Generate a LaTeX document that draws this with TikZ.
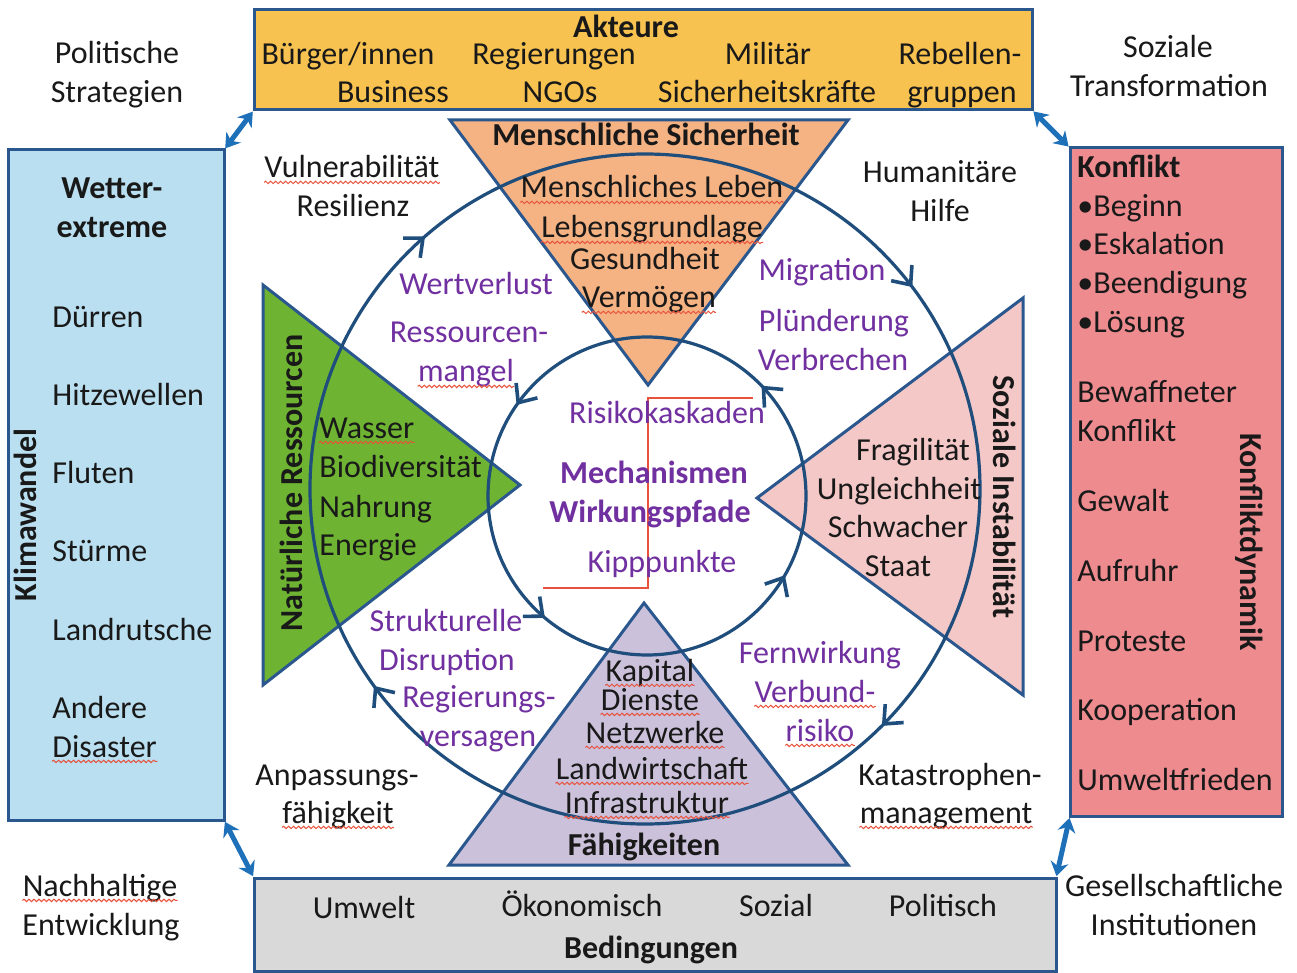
\documentclass[tikz,border=0pt]{standalone}
\usepackage{fontspec}
\setmainfont{Carlito}
\usetikzlibrary{arrows.meta,decorations.markings,decorations.pathmorphing}
\definecolor{bordb}{RGB}{43,87,143}
\definecolor{circb}{RGB}{31,78,125}
\definecolor{arrb}{RGB}{30,112,185}
\definecolor{topf}{RGB}{247,194,80}
\definecolor{leftf}{RGB}{186,223,240}
\definecolor{rightf}{RGB}{238,139,143}
\definecolor{botf}{RGB}{217,217,217}
\definecolor{orf}{RGB}{245,178,130}
\definecolor{grf}{RGB}{110,180,50}
\definecolor{pkf}{RGB}{244,200,198}
\definecolor{puf}{RGB}{204,193,218}
\definecolor{mpur}{RGB}{112,48,160}
\definecolor{redl}{RGB}{232,82,60}
\definecolor{txtc}{RGB}{25,25,25}
\newcommand\squnder[1]{\draw[squig] ([yshift=-2.2pt]#1.base west) -- ([yshift=-2.2pt]#1.base east);}
\begin{document}
\begin{tikzpicture}[x=0.5pt,y=-0.5pt,
  txt/.style={font=\fontsize{16}{19.5}\selectfont, text=txtc, text height=13pt, text depth=3pt, inner sep=0pt},
  bt/.style={txt, font=\fontsize{16}{19.5}\selectfont\bfseries},
  mech/.style={txt, text=mpur},
  mechb/.style={bt, text=mpur},
  lt/.style={txt, anchor=west},
  box/.style={draw=bordb, line width=1.5pt, inner sep=0pt, outer sep=0pt},
  tri/.style={draw=bordb, line width=1.5pt, line join=miter},
  circ/.style={draw=circb, line width=1.6pt},
  dbl/.style={draw=arrb, line width=2.5pt, {Stealth[length=7pt,width=9pt]}-{Stealth[length=7pt,width=9pt]}, shorten <=1pt, shorten >=1pt},
  squig/.style={draw=redl, line width=0.5pt, decorate, decoration={snake, amplitude=0.6pt, segment length=2.5pt}},
  redline/.style={draw=redl, line width=0.9pt},
  tipc/.tip={Straight Barb[length=7.5pt,width=13pt,line width=1.8pt]}
]
\useasboundingbox (0,0) rectangle (1297,973);
\fill[white] (0,0) rectangle (1297,973);

% boxes
\node[box, fill=topf, minimum width=389pt, minimum height=50pt] (akt) at (643,60) {};
\node[box, fill=leftf, minimum width=108pt, minimum height=335pt] (klima) at (116,485) {};
\node[box, fill=rightf, minimum width=106pt, minimum height=334pt] (konf) at (1176,482) {};
\node[box, fill=botf, minimum width=401pt, minimum height=46.5pt] (bed) at (655,924.5) {};

% double arrows
\draw[dbl] (klima.north east) -- (akt.south west);
\draw[dbl] (akt.south east) -- (konf.north west);
\draw[dbl] (klima.south east) -- (bed.north west);
\draw[dbl] (konf.south west) -- (bed.north east);

% triangles
\coordinate (o1) at (450,120); \coordinate (o2) at (848,120); \coordinate (o3) at (648,385);
\coordinate (g1) at (263,285); \coordinate (g2) at (263,685); \coordinate (g3) at (520,485);
\coordinate (p1) at (1023,298); \coordinate (p2) at (1023,695); \coordinate (p3) at (757,498);
\coordinate (u1) at (644,603); \coordinate (u2) at (449,865); \coordinate (u3) at (848,865);
\draw[tri, fill=orf] (o1) -- (o2) -- (o3) -- cycle;
\draw[tri, fill=grf] (g1) -- (g3) -- (g2) -- cycle;
\draw[tri, fill=pkf] (p1) -- (p3) -- (p2) -- cycle;
\draw[tri, fill=puf] (u1) -- (u3) -- (u2) -- cycle;

% circles
\coordinate (outc) at (645,489);
\coordinate (inc) at (647,496);
\draw[circ, postaction={decorate}, decoration={markings,
   mark=at position 0.125 with {\arrow{tipc}},
   mark=at position 0.400 with {\arrow{tipc}},
   mark=at position 0.636 with {\arrow{tipc}},
   mark=at position 0.897 with {\arrow{tipc}}}]
   (outc) ++(0:335) arc[start angle=0, end angle=360, radius=335];
\draw[circ, postaction={decorate}, decoration={markings,
   mark=at position 0.122 with {\arrow{tipc}},
   mark=at position 0.403 with {\arrow{tipc}},
   mark=at position 0.639 with {\arrow{tipc}},
   mark=at position 0.917 with {\arrow{tipc}}}]
   (inc) ++(360:159) arc[start angle=360, end angle=0, radius=159];

% red line
\coordinate (r1) at (753,398); \coordinate (r2) at (648,398);
\coordinate (r3) at (648,588); \coordinate (r4) at (543,588);
\draw[redline] (r1) -- (r2) -- (r3) -- (r4);

% top box texts
\node[bt] (akteure) at (626,28) {Akteure};
\node[txt] (buerger) at (348,55) {Bürger/innen};
\node[txt] (regier) at (554,55) {Regierungen};
\node[txt] (milit) at (768,55) {Militär};
\node[txt] (rebel) at (960,55) {Rebellen-};
\node[txt] (busi) at (393,93) {Business};
\node[txt] (ngos) at (560,93) {NGOs};
\node[txt] (sich) at (767,93) {Sicherheitskräfte};
\node[txt] (grup) at (962,93) {gruppen};

% left box texts
\node[bt] (wet1) at (112,189) {Wetter-};
\node[bt] (wet2) at (112,228) {extreme};
\node[lt] (duerr) at (52,318) {Dürren};
\node[lt] (hitze) at (52,396) {Hitzewellen};
\node[lt] (flut) at (52,473) {Fluten};
\node[lt] (sturm) at (52,551) {Stürme};
\node[lt] (landr) at (52,630) {Landrutsche};
\node[lt] (andere) at (52,708) {Andere};
\node[lt] (disaster) at (52,747) {Disaster};
\node[bt, rotate=90] (klimaw) at (26,515) {Klimawandel};

% right box texts
\node[bt, anchor=west] (konfl) at (1077,168) {Konflikt};
\node[lt] (beg) at (1077,207) {•Beginn};
\node[lt] (esk) at (1077,245) {•Eskalation};
\node[lt] (been) at (1077,284) {•Beendigung};
\node[lt] (loes) at (1077,323) {•Lösung};
\node[lt] (bewaf) at (1077,393) {Bewaffneter};
\node[lt] (konfl2) at (1077,432) {Konflikt};
\node[lt] (gewalt) at (1077,501) {Gewalt};
\node[lt] (aufr) at (1077,571) {Aufruhr};
\node[lt] (prot) at (1077,641) {Proteste};
\node[lt] (koop) at (1077,710) {Kooperation};
\node[lt] (umwf) at (1077,780) {Umweltfrieden};
\node[bt, rotate=-90] (kdyn) at (1250,542) {Konfliktdynamik};

% bottom box texts
\node[txt] (umw) at (364,908) {Umwelt};
\node[txt] (oeko) at (582,906) {Ökonomisch};
\node[txt] (soz) at (776,906) {Sozial};
\node[txt] (polit) at (943,906) {Politisch};
\node[bt] (bedt) at (651,948) {Bedingungen};

% corner texts
\node[txt] (pol1) at (117,54) {Politische};
\node[txt] (pol2) at (117,93) {Strategien};
\node[txt] (soz1) at (1168,48) {Soziale};
\node[txt] (soz2) at (1169,87) {Transformation};
\node[txt] (nach) at (100,886) {Nachhaltige};
\node[txt] (entw) at (101,925) {Entwicklung};
\node[txt] (ges1) at (1174,886) {Gesellschaftliche};
\node[txt] (ges2) at (1174,925) {Institutionen};

% black texts around circle
\node[txt] (vul) at (352,168) {Vulnerabilität};
\node[txt] (resil) at (353,207) {Resilienz};
\node[txt] (hum1) at (940,173) {Humanitäre};
\node[txt] (hum2) at (940,212) {Hilfe};
\node[txt] (anp1) at (337,775) {Anpassungs-};
\node[txt] (faeh) at (338,813) {fähigkeit};
\node[txt] (kat1) at (950,775) {Katastrophen-};
\node[txt] (mgmt) at (946,813) {management};

% orange triangle texts
\node[bt] (msich) at (646,136) {Menschliche Sicherheit};
\node[txt] (mleb) at (652,188) {Menschliches Leben};
\node[txt] (lgl) at (652,228) {Lebensgrundlage};
\node[txt] (gesund) at (645,260) {Gesundheit};
\node[txt] (verm) at (649,298) {Vermögen};

% green triangle texts
\node[bt, rotate=90] (natres) at (292,483) {Natürliche Ressourcen};
\node[lt] (wasser) at (319,428) {Wasser};
\node[lt] (biod) at (319,467) {Biodiversität};
\node[lt] (nahr) at (319,507) {Nahrung};
\node[lt] (energ) at (319,545) {Energie};

% pink triangle texts
\node[bt, rotate=-90] (sozinst) at (1003,497) {Soziale Instabilität};
\node[txt] (fragil) at (913,450) {Fragilität};
\node[txt] (ungl) at (899,489) {Ungleichheit};
\node[txt] (schw) at (898,528) {Schwacher};
\node[txt] (staat) at (898,566) {Staat};

% purple triangle texts
\node[txt] (kap) at (650,671) {Kapital};
\node[txt] (dien) at (650,700) {Dienste};
\node[txt] (netz) at (655,733) {Netzwerke};
\node[txt] (landw) at (652,769) {Landwirtschaft};
\node[txt] (infra) at (647,803) {Infrastruktur};
\node[bt] (faehig) at (644,845) {Fähigkeiten};

% mechanism texts
\node[mech] (wertv) at (476,285) {Wertverlust};
\node[mech] (ress) at (469,333) {Ressourcen-};
\node[mech] (mangel) at (466,372) {mangel};
\node[mech] (migr) at (822,271) {Migration};
\node[mech] (pluend) at (834,322) {Plünderung};
\node[mech] (verbr) at (833,361) {Verbrechen};
\node[mech] (strukt) at (446,621) {Strukturelle};
\node[mech] (disr) at (447,660) {Disruption};
\node[mech] (regv1) at (479,697) {Regierungs-};
\node[mech] (regv2) at (478,736) {versagen};
\node[mech] (fernw) at (820,653) {Fernwirkung};
\node[mech] (verbund) at (815,692) {Verbund-};
\node[mech] (risiko) at (820,731) {risiko};
\node[mech] (riskask) at (667,413) {Risikokaskaden};
\node[mechb] (mechan) at (654,473) {Mechanismen};
\node[mechb] (wirk) at (650,513) {Wirkungspfade};
\node[mech] (kipp) at (662,562) {Kipppunkte};

% spell-check underlines
\squnder{vul}
\squnder{mleb}
\squnder{lgl}
\squnder{verm}
\squnder{mangel}
\squnder{wasser}
\squnder{disaster}
\squnder{faeh}
\squnder{nach}
\squnder{kap}
\squnder{dien}
\squnder{netz}
\squnder{landw}
\squnder{infra}
\squnder{verbund}
\squnder{risiko}
\squnder{mgmt}
\end{tikzpicture}
\end{document}
